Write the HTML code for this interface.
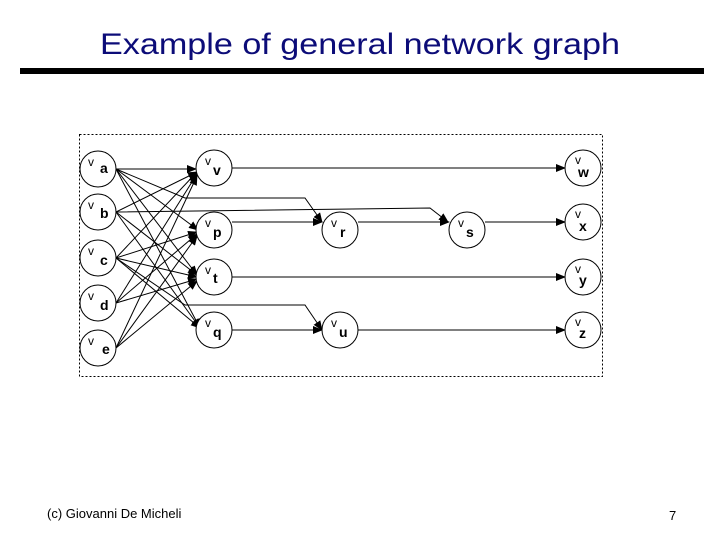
<!DOCTYPE html>
<html><head><style>
body{margin:0;width:720px;height:540px;background:#fff;overflow:hidden;font-family:"Liberation Sans",sans-serif}
</style></head><body>
<svg width="720" height="540" xmlns="http://www.w3.org/2000/svg" font-family="Liberation Sans, sans-serif">
<defs><marker id="a" markerWidth="10" markerHeight="8" refX="9" refY="4" orient="auto" markerUnits="userSpaceOnUse"><path d="M0,0L10,4L0,8z" fill="#000"/></marker></defs>
<text x="100" y="54" font-size="30" textLength="520" lengthAdjust="spacingAndGlyphs" fill="#0c0c78">Example of general network graph</text>
<rect x="20" y="68" width="684" height="6" fill="#000"/>
<rect x="79.5" y="134.5" width="523" height="242" fill="none" stroke="#000" stroke-dasharray="2,2"/>
<g stroke="#000" stroke-width="1" fill="none" marker-end="url(#a)">
<line x1="116" y1="169" x2="196" y2="169"/>
<line x1="116" y1="169" x2="197" y2="275"/><line x1="116" y1="169" x2="200" y2="328"/><line x1="116" y1="169" x2="198" y2="230"/>
<line x1="116" y1="212" x2="197" y2="172"/><line x1="116" y1="212" x2="197" y2="275"/><line x1="116" y1="212" x2="200" y2="328"/>
<line x1="116" y1="258" x2="197" y2="172"/><line x1="116" y1="258" x2="197" y2="232"/><line x1="116" y1="258" x2="197" y2="277"/><line x1="116" y1="258" x2="200" y2="328"/>
<line x1="116" y1="303" x2="197" y2="174"/><line x1="116" y1="303" x2="197" y2="234"/><line x1="116" y1="303" x2="197" y2="279"/>
<line x1="116" y1="348" x2="197" y2="176"/><line x1="116" y1="348" x2="197" y2="236"/><line x1="116" y1="348" x2="197" y2="281"/>
<polyline points="116,169 185,198 305,198 322,222"/>
<polyline points="116,212 430,208 448,222"/>
<polyline points="116,258 185,305 305,305 322,330"/>
<line x1="232" y1="168" x2="565" y2="168"/>
<line x1="232" y1="222" x2="322" y2="222"/>
<line x1="358" y1="222" x2="449" y2="222"/>
<line x1="485" y1="222" x2="565" y2="222"/>
<line x1="232" y1="277" x2="565" y2="277"/>
<line x1="232" y1="330" x2="322" y2="330"/>
<line x1="358" y1="330" x2="565" y2="330"/>
</g>
<g fill="#fff" stroke="#000">
<circle cx="98" cy="169" r="18"/><circle cx="98" cy="212" r="18"/><circle cx="98" cy="258" r="18"/><circle cx="98" cy="303" r="18"/><circle cx="98" cy="348" r="18"/>
<circle cx="214" cy="168" r="18"/><circle cx="214" cy="230" r="18"/><circle cx="214" cy="277" r="18"/><circle cx="214" cy="330" r="18"/>
<circle cx="340" cy="230" r="18"/><circle cx="467" cy="230" r="18"/><circle cx="340" cy="330" r="18"/>
<circle cx="583" cy="168" r="18"/><circle cx="583" cy="222" r="18"/><circle cx="583" cy="277" r="18"/><circle cx="583" cy="330" r="18"/>
</g>
<g font-size="12" fill="#000">
<text x="88" y="166">v</text><text x="100" y="173" font-size="14" font-weight="bold">a</text>
<text x="88" y="209">v</text><text x="100" y="218" font-size="14" font-weight="bold">b</text>
<text x="88" y="255">v</text><text x="100" y="265" font-size="14" font-weight="bold">c</text>
<text x="88" y="300">v</text><text x="100" y="310" font-size="14" font-weight="bold">d</text>
<text x="88" y="345">v</text><text x="102" y="354" font-size="14" font-weight="bold">e</text>
<text x="205" y="165">v</text><text x="213" y="175" font-size="14" font-weight="bold">v</text>
<text x="205" y="227">v</text><text x="213" y="237" font-size="14" font-weight="bold">p</text>
<text x="205" y="274">v</text><text x="213" y="283" font-size="14" font-weight="bold">t</text>
<text x="205" y="327">v</text><text x="213" y="337" font-size="14" font-weight="bold">q</text>
<text x="331" y="227">v</text><text x="340" y="237" font-size="14" font-weight="bold">r</text>
<text x="458" y="227">v</text><text x="466" y="237" font-size="14" font-weight="bold">s</text>
<text x="331" y="327">v</text><text x="339" y="337" font-size="14" font-weight="bold">u</text>
<text x="575" y="164">v</text><text x="578" y="177" font-size="14" font-weight="bold">w</text>
<text x="575" y="218">v</text><text x="579" y="231" font-size="14" font-weight="bold">x</text>
<text x="575" y="273">v</text><text x="579" y="285" font-size="14" font-weight="bold">y</text>
<text x="575" y="326">v</text><text x="579" y="338" font-size="14" font-weight="bold">z</text>
</g>
<text x="47" y="518" font-size="13">(c) Giovanni De Micheli</text>
<text x="669" y="520" font-size="13">7</text>
</svg>
</body></html>
